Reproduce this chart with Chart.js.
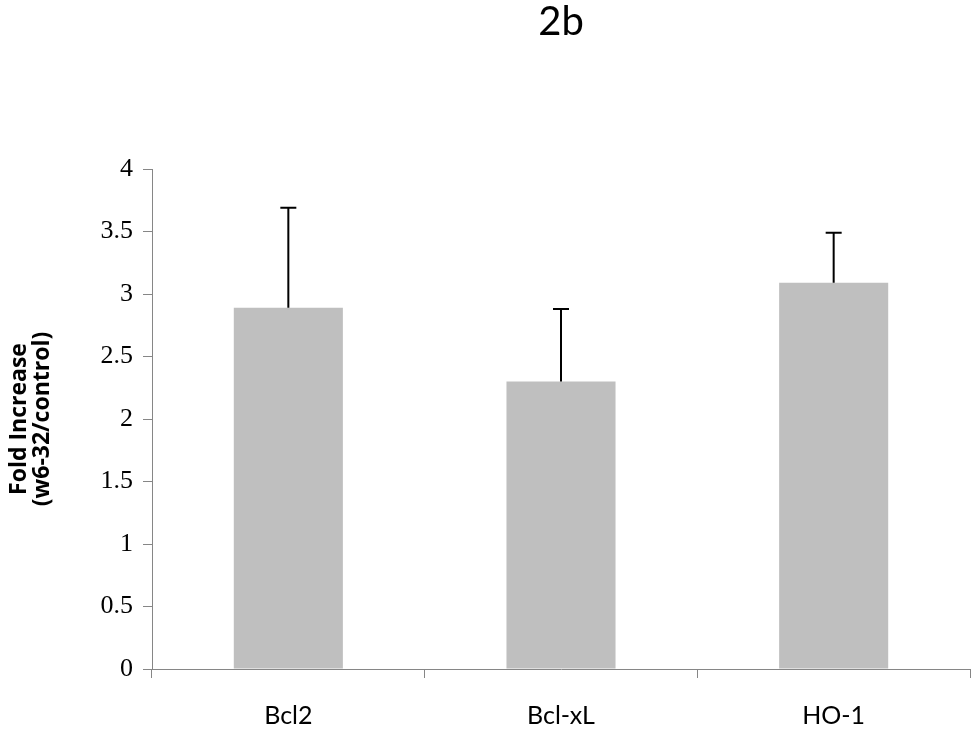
<!DOCTYPE html>
<html>
<head>
<meta charset="utf-8">
<script src="https://cdn.jsdelivr.net/npm/chart.js@4"></script>
<style>
  html, body { margin: 0; padding: 0; background: #fff; }
  #wrap { width: 975px; height: 734px; }
</style>
</head>
<body>
<div id="wrap"><canvas id="chart" width="975" height="734"></canvas></div>
<script>
const categories = ['Bcl2', 'Bcl-xL', 'HO-1'];
const foldIncrease = [2.89, 2.3, 3.09];
const errorUp = [0.8, 0.58, 0.4];
const yTicks = [0, 0.5, 1, 1.5, 2, 2.5, 3, 3.5, 4];

// upper error bars, positioned with the y scale
const errorBars = {
  id: 'errorBars',
  afterDatasetsDraw(chart) {
    const ctx = chart.ctx;
    const y = chart.scales.y;
    const meta = chart.getDatasetMeta(0);
    ctx.save();
    ctx.strokeStyle = '#000';
    ctx.lineWidth = 2;
    meta.data.forEach((bar, i) => {
      const top = y.getPixelForValue(foldIncrease[i] + errorUp[i]);
      const base = y.getPixelForValue(foldIncrease[i]);
      ctx.beginPath();
      ctx.moveTo(bar.x, base);
      ctx.lineTo(bar.x, top);
      ctx.moveTo(bar.x - 8, top);
      ctx.lineTo(bar.x + 8, top);
      ctx.stroke();
    });
    ctx.restore();
  }
};

new Chart(document.getElementById('chart'), {
  type: 'bar',
  data: {
    labels: categories,
    datasets: [{
      data: foldIncrease,
      backgroundColor: '#bfbfbf',
      borderWidth: 0,
      categoryPercentage: 1,
      barPercentage: 0.4
    }]
  },
  plugins: [errorBars],
  options: {
    responsive: false,
    animation: false,
    layout: { padding: { left: 0, right: 5, top: 0, bottom: 0 } },
    plugins: {
      legend: { display: false },
      tooltip: { enabled: false },
      title: {
        display: true,
        text: '2b',
        fullSize: false,
        color: '#000',
        font: { family: 'Lato', size: 40, weight: 'normal', lineHeight: 1 },
        padding: { top: 2, bottom: 127 }
      }
    },
    scales: {
      x: {
        afterFit: s => { s.height = 65; },
        grid: {
          offset: true,
          drawOnChartArea: false,
          drawTicks: true,
          tickLength: 9,
          color: '#868686'
        },
        border: { color: '#868686', width: 1 },
        ticks: {
          color: '#000',
          padding: 23,
          font: { family: 'Lato', size: 25 }
        }
      },
      y: {
        min: 0,
        max: 4,
        afterFit: s => { s.width = 152; },
        afterBuildTicks: s => { s.ticks = yTicks.map(v => ({ value: v })); },
        grid: {
          drawOnChartArea: false,
          drawTicks: true,
          tickLength: 9,
          color: '#868686'
        },
        border: { color: '#868686', width: 1 },
        ticks: {
          color: '#000',
          padding: 10,
          font: { family: 'Liberation Serif', size: 26 },
          callback: v => String(v)
        },
        title: {
          display: true,
          text: ['Fold Increase', '(w6-32/control)'],
          color: '#000',
          font: { family: 'Open Sans', size: 23, weight: 'bold', lineHeight: 1 },
          padding: { top: 8, bottom: 0 }
        }
      }
    }
  }
});
</script>
</body>
</html>
